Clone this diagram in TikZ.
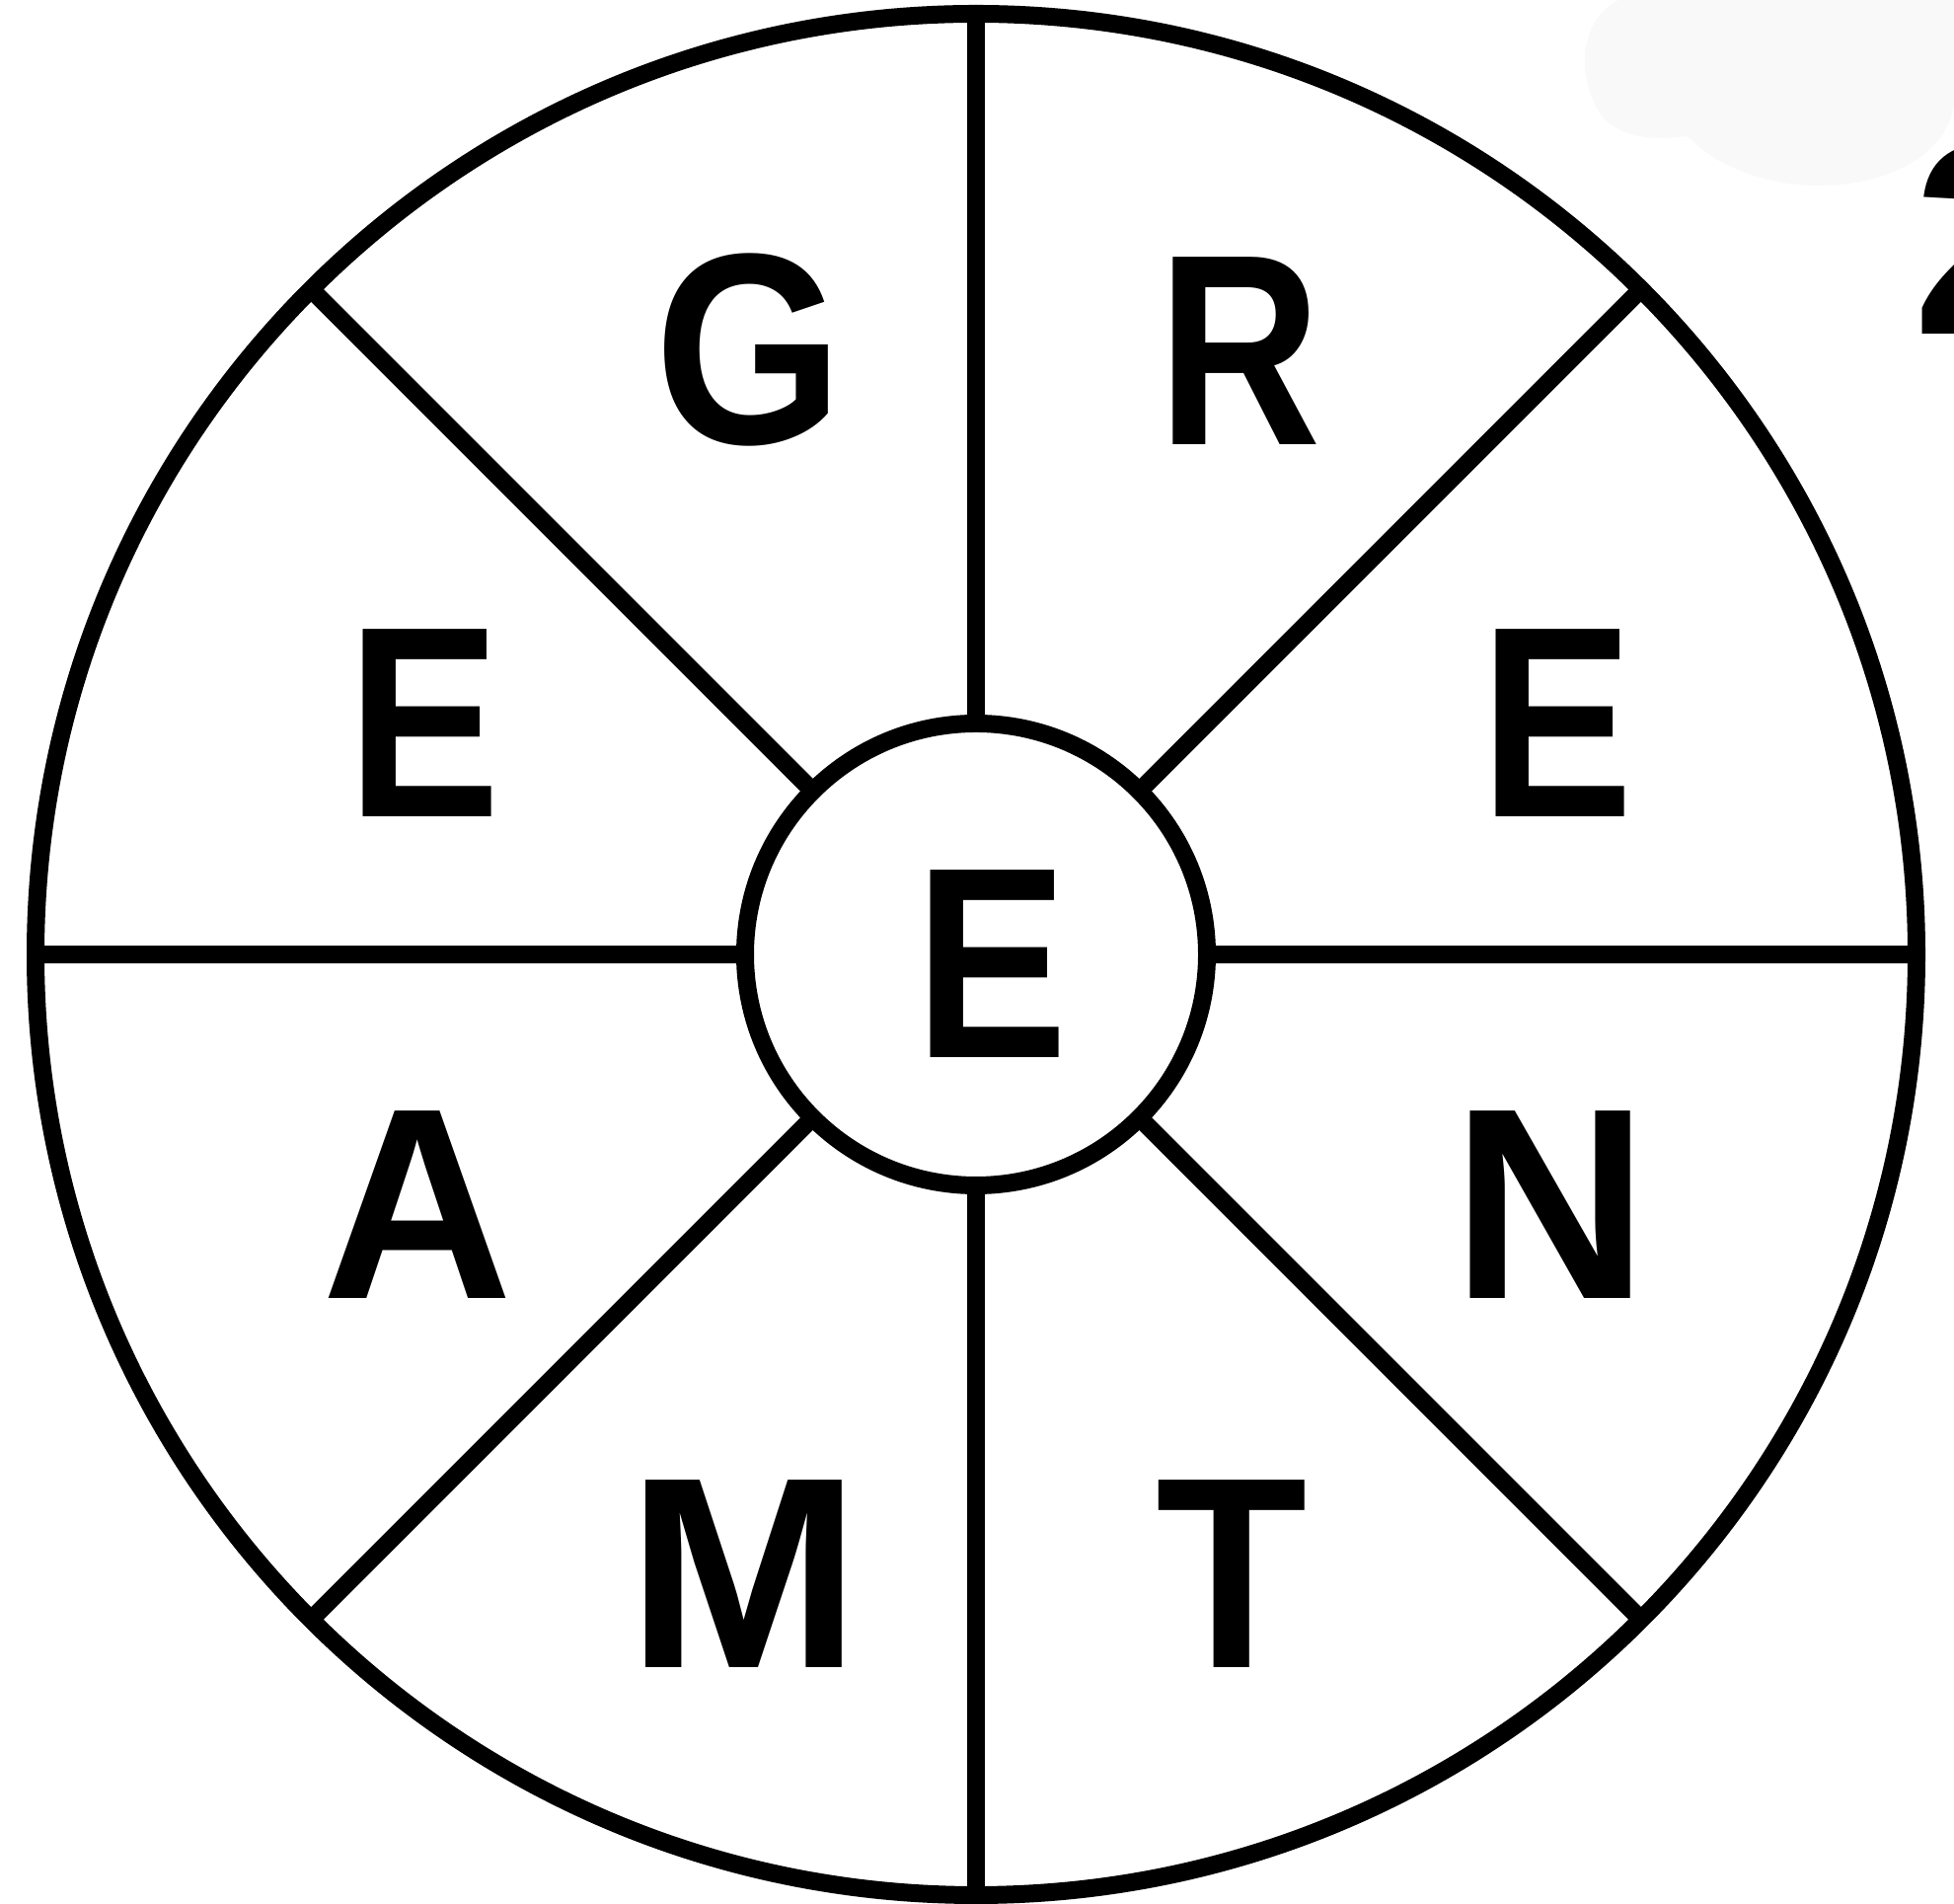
\documentclass[tikz,border=0pt]{standalone}
\usepackage{fontspec}
\setmainfont{Liberation Sans}
\begin{document}
\begin{tikzpicture}[x=1pt,y=1pt,
  ring/.style={circle,draw=black,line width=18pt,outer sep=0pt,inner sep=0pt},
  spoke/.style={draw=black,line width=18pt,line cap=butt},
  letter/.style={inner sep=0pt,outer sep=0pt,font=\bfseries\fontsize{276}{276}\selectfont}]
\useasboundingbox (0,0) rectangle (1980,1929);
% faint blob top right
\fill[black!2.5] (1640,1929) .. controls (1600,1909) and (1595,1849) .. (1625,1809)
  .. controls (1650,1784) and (1690,1789) .. (1710,1791)
  .. controls (1750,1749) and (1820,1734) .. (1880,1744)
  .. controls (1940,1754) and (1980,1789) .. (1980,1829) -- (1980,1929) -- cycle;
\node[ring,minimum size=1906pt] (o) at (989,962) {};
\node[ring,minimum size=468pt] (c) at (989,962) {};
\foreach \a in {north,south,east,west,north east,north west,south east,south west}
  \draw[spoke] (c.\a) -- (o.\a);
\node[letter] (lG) at (759,1574) {\scalebox{0.89}[1]{G}};
\node[letter] (lR) at (1256,1573) {\scalebox{0.83}[1]{R}};
\node[letter] (lE1) at (430,1196) {\scalebox{0.84}[1]{E}};
\node[letter] (lE2) at (1578,1196) {\scalebox{0.84}[1]{E}};
\node[letter] (lE0) at (1005,952) {\scalebox{0.84}[1]{E}};
\node[letter] (lA) at (423,708) {\scalebox{0.97}[1]{A}};
\node[letter] (lN) at (1571,708) {N};
\node[letter] (lM) at (754,334) {\scalebox{1.03}[1]{M}};
\node[letter] (lT) at (1248,334) {\scalebox{0.91}[1]{T}};
\begin{scope}
\clip (0,0) rectangle (1980,1929);
\node[letter,anchor=west] (l2) at (1938,1687) {2};
\end{scope}
\end{tikzpicture}
\end{document}
